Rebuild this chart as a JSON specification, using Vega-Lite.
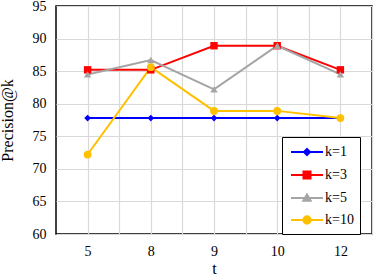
{
  "$schema": "https://vega.github.io/schema/vega-lite/v6.json",
  "width": 316,
  "height": 228,
  "autosize": {"type": "none"},
  "padding": {"left": 56, "top": 6, "right": 2, "bottom": 41},
  "background": "white",
  "config": {
    "view": {"stroke": "black", "strokeWidth": 1.5},
    "font": "Liberation Serif",
    "axis": {
      "labelFont": "Liberation Serif",
      "titleFont": "Liberation Serif",
      "labelColor": "black",
      "titleColor": "black",
      "labelFontSize": 14,
      "titleFontSize": 16,
      "titleFontWeight": "normal",
      "gridColor": "#d9d9d9",
      "gridWidth": 1.2,
      "gridOpacity": 1,
      "domain": false,
      "ticks": false
    }
  },
  "data": {
    "values": [
      {"t": 5, "k": "k=1", "v": 77.8},
      {"t": 8, "k": "k=1", "v": 77.8},
      {"t": 9, "k": "k=1", "v": 77.8},
      {"t": 10, "k": "k=1", "v": 77.8},
      {"t": 12, "k": "k=1", "v": 77.8},
      {"t": 5, "k": "k=3", "v": 85.2},
      {"t": 8, "k": "k=3", "v": 85.2},
      {"t": 9, "k": "k=3", "v": 88.9},
      {"t": 10, "k": "k=3", "v": 88.9},
      {"t": 12, "k": "k=3", "v": 85.2},
      {"t": 5, "k": "k=5", "v": 84.5},
      {"t": 8, "k": "k=5", "v": 86.7},
      {"t": 9, "k": "k=5", "v": 82.2},
      {"t": 10, "k": "k=5", "v": 88.9},
      {"t": 12, "k": "k=5", "v": 84.5},
      {"t": 5, "k": "k=10", "v": 72.2},
      {"t": 8, "k": "k=10", "v": 85.6},
      {"t": 9, "k": "k=10", "v": 78.9},
      {"t": 10, "k": "k=10", "v": 78.9},
      {"t": 12, "k": "k=10", "v": 77.8}
    ]
  },
  "encoding": {
    "y": {
      "field": "v", "type": "quantitative",
      "scale": {"domain": [60, 95], "nice": false, "zero": false},
      "axis": {"values": [60, 65, 70, 75, 80, 85, 90, 95], "grid": true, "labelPadding": 10, "title": "Precision@k", "titlePadding": 17}
    },
    "color": {
      "field": "k", "type": "nominal",
      "scale": {"domain": ["k=1", "k=3", "k=5", "k=10"], "range": ["#0000ff", "#ff0000", "#a5a5a5", "#ffc000"]},
      "legend": {
        "orient": "none",
        "legendX": 226,
        "legendY": 131,
        "title": null,
        "strokeColor": "black",
        "fillColor": "white",
        "padding": 6,
        "symbolSize": 256,
        "symbolStrokeWidth": 2,
        "symbolOpacity": 1,
        "symbolOffset": 10,
        "labelFont": "Liberation Serif",
        "labelFontSize": 14,
        "labelColor": "black",
        "labelOffset": 9,
        "rowPadding": 6
      }
    }
  },
  "layer": [
    {
      "mark": {"type": "line", "strokeWidth": 2},
      "encoding": {
        "x": {
          "field": "t", "type": "ordinal",
          "scale": {"type": "point", "padding": 0.5},
          "axis": {"orient": "bottom", "grid": true, "labelAngle": 0, "labelPadding": 10, "title": "t", "titlePadding": 2}
        }
      }
    },
    {
      "transform": [{"filter": "datum.k === 'k=1'"}],
      "mark": {"type": "point", "filled": true, "shape": "diamond", "size": 45, "opacity": 1},
      "encoding": {"x": {"field": "t", "type": "ordinal", "axis": null}}
    },
    {
      "transform": [{"filter": "datum.k === 'k=3'"}],
      "mark": {"type": "point", "filled": true, "shape": "square", "size": 55, "opacity": 1},
      "encoding": {"x": {"field": "t", "type": "ordinal", "axis": null}}
    },
    {
      "transform": [{"filter": "datum.k === 'k=5'"}],
      "mark": {"type": "point", "filled": true, "shape": "triangle-up", "size": 55, "opacity": 1},
      "encoding": {"x": {"field": "t", "type": "ordinal", "axis": null}}
    },
    {
      "transform": [{"filter": "datum.k === 'k=10'"}],
      "mark": {"type": "point", "filled": true, "shape": "circle", "size": 60, "opacity": 1},
      "encoding": {"x": {"field": "t", "type": "ordinal", "axis": null}}
    },
    {
      "transform": [{"filter": "datum.v < 0"}],
      "mark": {"type": "point", "filled": true, "opacity": 1},
      "encoding": {
        "x": {
          "field": "t", "type": "ordinal",
          "axis": {"orient": "top", "grid": true, "labels": false, "title": null, "tickOffset": 31.6}
        },
        "shape": {
          "field": "k", "type": "nominal",
          "scale": {"domain": ["k=1", "k=3", "k=5", "k=10"], "range": [
            "M-2,0H2M0,-0.38L0.38,0L0,0.38L-0.38,0Z",
            "M-2,0H2M-0.44,-0.44H0.44V0.44H-0.44Z",
            "M-2,0H2M0,-0.44L0.46,0.34H-0.46Z",
            "M-2,0H2M-0.46,0A0.46,0.46,0,1,0,0.46,0A0.46,0.46,0,1,0,-0.46,0Z"
          ]}
        }
      }
    }
  ],
  "resolve": {"axis": {"x": "independent"}}
}
